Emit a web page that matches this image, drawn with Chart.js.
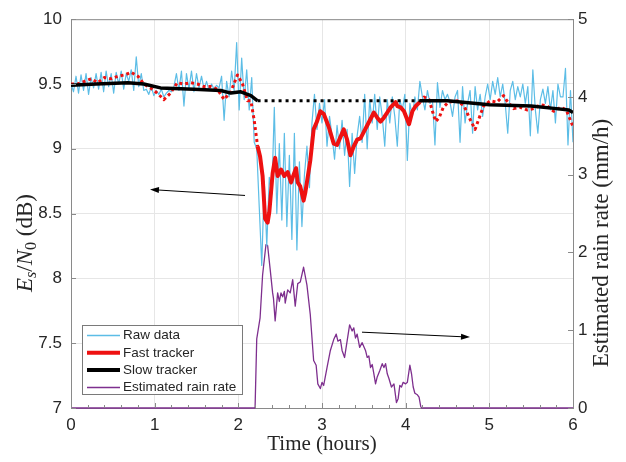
<!DOCTYPE html>
<html>
<head>
<meta charset="utf-8">
<script src="https://cdn.jsdelivr.net/npm/chart.js"></script>
<style>
html, body { margin:0; padding:0; background:#fff; }
canvas { display:block; }
</style>
</head>
<body>
<canvas id="c" width="626" height="462"></canvas>
<script>
// Ticks
var xTicks = [0, 1, 2, 3, 4, 5, 6];
var leftTicks = [7, 7.5, 8, 8.5, 9, 9.5, 10];
var rightTicks = [0, 1, 2, 3, 4, 5];

// Raw Es/N0 (dB), one sample every 0.03 h
var rawStart = 0;
var rawStep = 0.03;
var rawValues = [
  9.50, 9.44, 9.56, 9.43, 9.57, 9.45, 9.58, 9.42, 9.55, 9.47,
  9.58, 9.46, 9.59, 9.44, 9.60, 9.48, 9.58, 9.43, 9.59, 9.50,
  9.60, 9.46, 9.58, 9.52, 9.61, 9.45, 9.71, 9.48, 9.58, 9.45,
  9.46, 9.42, 9.48, 9.41, 9.45, 9.42, 9.46, 9.40, 9.43, 9.45,
  9.44, 9.48, 9.58, 9.45, 9.60, 9.33, 9.58, 9.46, 9.60, 9.44,
  9.58, 9.47, 9.56, 9.46, 9.52, 9.45, 9.50, 9.46, 9.49, 9.47,
  9.56, 9.22, 9.52, 9.40, 9.60, 9.45, 9.82, 9.30, 9.70, 9.38,
  9.61, 9.30, 9.55, 9.05, 9.00, 8.55, 8.10, 8.75, 8.25, 8.78,
  8.65, 9.32, 8.50, 9.04, 8.45, 9.12, 8.40, 8.95, 8.30, 9.12,
  8.22, 8.90, 8.40, 8.80, 9.02, 8.70, 9.20, 9.42, 9.15, 9.35,
  9.20, 9.38, 9.02, 9.25, 9.10, 8.92, 9.18, 9.00, 9.22, 8.95,
  9.15, 8.71, 9.12, 8.81, 9.10, 9.25, 9.05, 9.42, 9.00, 9.38,
  9.20, 9.42, 9.15, 9.40, 9.25, 9.02, 9.38, 9.20, 9.40, 9.25,
  9.02, 9.38, 9.30, 9.42, 8.91, 9.35, 9.25, 9.40, 9.30, 9.52,
  9.40, 9.30, 9.45, 9.35, 9.38, 9.03, 9.51, 9.32, 9.45, 9.38,
  9.42, 9.36, 9.25, 9.40, 9.45, 9.05, 9.48, 9.20, 9.35, 9.45,
  9.12, 9.48, 9.30, 9.42, 9.25, 9.40, 9.50, 9.38, 9.52, 9.42,
  9.55, 9.40, 9.50, 9.35, 9.12, 9.45, 9.52, 9.38, 9.48, 9.40,
  9.50, 9.35, 9.48, 9.10, 9.61, 9.30, 9.12, 9.38, 9.46, 9.35,
  9.48, 9.30, 9.45, 9.20, 9.50, 9.40, 9.40, 9.62, 9.03, 9.45, 9.05
];

// Fast tracker (dB)
var fastTime = [
  0, 0.08, 0.16, 0.24, 0.32, 0.40, 0.48, 0.56, 0.64, 0.72,
  0.80, 0.87, 0.95, 1.03, 1.11, 1.19, 1.27, 1.35, 1.43, 1.51,
  1.59, 1.67, 1.75, 1.83, 1.91, 1.99, 2.05, 2.11, 2.15, 2.19,
  2.23, 2.26, 2.29, 2.32, 2.35, 2.37, 2.41, 2.44, 2.47, 2.51,
  2.55, 2.59, 2.63, 2.65, 2.69, 2.71, 2.74, 2.78, 2.80, 2.86,
  2.90, 2.94, 2.98, 3.02, 3.08, 3.14, 3.18, 3.26, 3.30, 3.34,
  3.38, 3.42, 3.46, 3.50, 3.54, 3.58, 3.62, 3.66, 3.70, 3.74,
  3.78, 3.82, 3.88, 3.90, 3.94, 3.98, 4.04, 4.08, 4.12, 4.17,
  4.22, 4.28, 4.32, 4.36, 4.40, 4.45, 4.51, 4.62, 4.70, 4.76,
  4.83, 4.88, 4.93, 5.01, 5.09, 5.17, 5.21, 5.29, 5.37, 5.45,
  5.53, 5.61, 5.69, 5.77, 5.85, 5.92, 6.00
];
var fastValues = [
  9.50, 9.50, 9.52, 9.54, 9.51, 9.55, 9.54, 9.56, 9.57, 9.59,
  9.56, 9.50, 9.47, 9.43, 9.38, 9.43, 9.51, 9.50, 9.51, 9.50,
  9.48, 9.48, 9.46, 9.38, 9.44, 9.57, 9.50, 9.37, 9.37, 9.22,
  9.02, 8.94, 8.79, 8.46, 8.43, 8.51, 8.81, 8.93, 8.79, 8.84,
  8.79, 8.82, 8.74, 8.78, 8.85, 8.74, 8.71, 8.60, 8.66, 8.91,
  9.15, 9.21, 9.29, 9.27, 9.17, 9.04, 9.03, 9.15, 9.07, 8.95,
  9.02, 9.07, 9.08, 9.13, 9.18, 9.23, 9.28, 9.24, 9.21, 9.24,
  9.28, 9.32, 9.36, 9.33, 9.32, 9.29, 9.19, 9.29, 9.33, 9.36,
  9.40, 9.38, 9.29, 9.21, 9.24, 9.32, 9.36, 9.37, 9.33, 9.24,
  9.15, 9.24, 9.33, 9.37, 9.36, 9.41, 9.37, 9.31, 9.32, 9.30,
  9.31, 9.34, 9.33, 9.29, 9.32, 9.30, 9.17
];

// Slow tracker (dB)
var slowTime = [0, 0.30, 0.68, 0.87, 1.07, 1.47, 1.79, 1.91, 2.03, 2.15, 2.23, 4.17, 4.50, 5.00, 5.50, 5.80, 5.95, 6.00];
var slowValues = [9.49, 9.50, 9.51, 9.50, 9.47, 9.46, 9.45, 9.43, 9.44, 9.41, 9.37, 9.37, 9.37, 9.34, 9.33, 9.31, 9.30, 9.28];

// Estimated rain rate (mm/h)
var rainTime = [
  0, 2.20, 2.22, 2.26, 2.29, 2.33, 2.35, 2.38, 2.41, 2.42,
  2.44, 2.47, 2.49, 2.51, 2.53, 2.55, 2.56, 2.59, 2.62, 2.65,
  2.68, 2.71, 2.74, 2.78, 2.82, 2.86, 2.90, 2.93, 2.95, 2.98,
  3.00, 3.02, 3.06, 3.10, 3.14, 3.17, 3.19, 3.22, 3.24, 3.27,
  3.30, 3.33, 3.36, 3.38, 3.40, 3.42, 3.45, 3.48, 3.52, 3.54,
  3.56, 3.58, 3.60, 3.62, 3.64, 3.66, 3.69, 3.72, 3.74, 3.76,
  3.78, 3.80, 3.83, 3.86, 3.89, 3.91, 3.93, 3.95, 3.97, 4.00,
  4.02, 4.05, 4.07, 4.09, 4.11, 4.14, 4.16, 4.18, 4.19, 6.00
];
var rainValues = [
  0, 0, 0.89, 1.16, 1.71, 2.10, 2.09, 1.79, 1.48, 1.41,
  1.12, 1.48, 1.37, 1.48, 1.43, 1.50, 1.35, 1.52, 1.48, 1.65,
  1.31, 1.60, 1.62, 1.81, 1.58, 1.20, 0.61, 0.55, 0.31, 0.25,
  0.33, 0.29, 0.52, 0.74, 0.88, 0.95, 0.86, 0.88, 0.74, 0.65,
  0.86, 1.07, 0.99, 1.03, 0.90, 0.95, 0.78, 0.84, 0.74, 0.65,
  0.67, 0.52, 0.56, 0.44, 0.31, 0.40, 0.48, 0.57, 0.52, 0.57,
  0.44, 0.38, 0.27, 0.31, 0.07, 0.12, 0.29, 0.27, 0.33, 0.31,
  0.33, 0.55, 0.44, 0.27, 0.19, 0.17, 0.14, 0.02, 0, 0
];

// Rain event: fast tracker solid, slow tracker frozen (dotted)
var rainStart = 2.23;
var rainEnd = 4.17;

// Annotation arrows [fromT, fromdB, toT, todB]
var arrows = [
  [2.08, 8.64, 0.944, 8.686],
  [3.478, 7.585, 4.769, 7.547]
];

// Style
var sans = '"Liberation Sans", Arial, sans-serif';
var serif = '"Liberation Serif", "Times New Roman", serif';
var textColor = '#262626';
var axisColor = '#8a8a8a';
var gridColor = '#e6e6e6';
var rawColor = '#5cbde6';
var fastColor = '#ee1111';
var slowColor = '#000000';
var rainColor = '#7e2f8e';

function pairs(t, v) {
  var out = [];
  for (var i = 0; i < v.length; i++) out.push({ x: t[i], y: v[i] });
  return out;
}
function rawPairs() {
  var out = [];
  for (var i = 0; i < rawValues.length; i++) out.push({ x: rawStart + i * rawStep, y: rawValues[i] });
  return out;
}
function inRain(ctx) {
  var x = ctx.p0.parsed.x;
  return x >= rainStart - 1e-6 && x < rainEnd - 1e-6;
}

// Legend entries (drawn by the plugin)
var legendItems = [
  { label: 'Raw data', color: rawColor, width: 1.5 },
  { label: 'Fast tracker', color: fastColor, width: 4 },
  { label: 'Slow tracker', color: slowColor, width: 4 },
  { label: 'Estimated rain rate', color: rainColor, width: 1.5 }
];

function drawPieces(ctx, pieces, cx, cy, base) {
  var w = 0;
  pieces.forEach(function (p) { ctx.font = p.f; w += ctx.measureText(p.t).width; });
  var x = cx - w / 2;
  pieces.forEach(function (p) {
    ctx.font = p.f;
    ctx.fillText(p.t, x, cy + base + (p.dy || 0));
    x += ctx.measureText(p.t).width;
  });
}

var decor = {
  id: 'decor',
  afterDraw: function (chart) {
    var ctx = chart.ctx, a = chart.chartArea;
    var sx = chart.scales.x, sy = chart.scales.y, sr = chart.scales.y1;
    ctx.save();

    // top border of the box
    ctx.strokeStyle = axisColor;
    ctx.lineWidth = 1;
    ctx.beginPath();
    ctx.moveTo(a.left, a.top + 0.5);
    ctx.lineTo(a.right, a.top + 0.5);
    ctx.stroke();

    // inward ticks
    ctx.beginPath();
    for (var i = 0; i <= 30; i++) {
      var px = Math.round(sx.getPixelForValue(i / 5)) + 0.5;
      var len = (i % 5 === 0) ? 5 : 3;
      ctx.moveTo(px, a.bottom);
      ctx.lineTo(px, a.bottom - len);
    }
    leftTicks.forEach(function (v) {
      var py = Math.round(sy.getPixelForValue(v)) + 0.5;
      ctx.moveTo(a.left, py);
      ctx.lineTo(a.left + 5, py);
    });
    rightTicks.forEach(function (v) {
      var py = Math.round(sr.getPixelForValue(v)) + 0.5;
      ctx.moveTo(a.right, py);
      ctx.lineTo(a.right - 5, py);
    });
    ctx.stroke();

    // arrows
    ctx.strokeStyle = '#000';
    ctx.fillStyle = '#000';
    ctx.lineWidth = 1;
    arrows.forEach(function (ar) {
      var x0 = sx.getPixelForValue(ar[0]), y0 = sy.getPixelForValue(ar[1]);
      var x1 = sx.getPixelForValue(ar[2]), y1 = sy.getPixelForValue(ar[3]);
      var ang = Math.atan2(y1 - y0, x1 - x0);
      ctx.beginPath();
      ctx.moveTo(x0, y0);
      ctx.lineTo(x1 - 6 * Math.cos(ang), y1 - 6 * Math.sin(ang));
      ctx.stroke();
      ctx.beginPath();
      ctx.moveTo(x1, y1);
      ctx.lineTo(x1 - 9 * Math.cos(ang) + 3 * Math.sin(ang), y1 - 9 * Math.sin(ang) - 3 * Math.cos(ang));
      ctx.lineTo(x1 - 9 * Math.cos(ang) - 3 * Math.sin(ang), y1 - 9 * Math.sin(ang) + 3 * Math.cos(ang));
      ctx.closePath();
      ctx.fill();
    });

    // legend box
    var lx = 82, ly = 325, lw = 160, lh = 69;
    ctx.fillStyle = '#fff';
    ctx.fillRect(lx, ly, lw, lh);
    ctx.strokeStyle = '#7a7a7a';
    ctx.lineWidth = 1;
    ctx.strokeRect(lx + 0.5, ly + 0.5, lw, lh);
    ctx.font = '13.5px ' + sans;
    ctx.textBaseline = 'middle';
    ctx.textAlign = 'left';
    legendItems.forEach(function (it, k) {
      var yy = ly + 10.5 + k * 17.3;
      ctx.strokeStyle = it.color;
      ctx.lineWidth = it.width;
      ctx.beginPath();
      ctx.moveTo(lx + 5, yy);
      ctx.lineTo(lx + 38, yy);
      ctx.stroke();
      ctx.fillStyle = textColor;
      ctx.fillText(it.label, lx + 41, yy);
    });

    // axis titles
    ctx.fillStyle = textColor;
    ctx.textBaseline = 'alphabetic';
    ctx.textAlign = 'left';
    drawPieces(ctx, [{ t: 'Time (hours)', f: '21px ' + serif }], (a.left + a.right) / 2, 443, 7);

    ctx.save();
    ctx.translate(24, 243);
    ctx.rotate(-Math.PI / 2);
    drawPieces(ctx, [
      { t: 'E', f: 'italic 23px ' + serif },
      { t: 's', f: 'italic 16px ' + serif, dy: 4 },
      { t: '/', f: '23px ' + serif },
      { t: 'N', f: 'italic 23px ' + serif },
      { t: '0', f: '16px ' + serif, dy: 4 },
      { t: ' (dB)', f: '23px ' + serif }
    ], 0, 0, 8);
    ctx.restore();

    ctx.save();
    ctx.translate(601, 243);
    ctx.rotate(-Math.PI / 2);
    drawPieces(ctx, [{ t: 'Estimated rain rate (mm/h)', f: '23px ' + serif }], 0, 0, 7);
    ctx.restore();

    ctx.restore();
  }
};

function tickFormat(v) { return String(v); }

new Chart(document.getElementById('c'), {
  type: 'line',
  data: {
    datasets: [
      {
        label: 'Slow tracker', data: pairs(slowTime, slowValues), yAxisID: 'y', order: 0,
        borderColor: slowColor, borderWidth: 3.5,
        segment: {
          borderDash: function (ctx) { return inRain(ctx) ? [3, 4] : []; },
          borderWidth: function (ctx) { return inRain(ctx) ? 3 : 3.5; }
        }
      },
      {
        label: 'Fast tracker', data: pairs(fastTime, fastValues), yAxisID: 'y', order: 1,
        borderColor: fastColor, borderWidth: 3,
        segment: {
          borderDash: function (ctx) { return inRain(ctx) ? [] : [3, 3]; },
          borderWidth: function (ctx) { return inRain(ctx) ? 4 : 3; }
        }
      },
      {
        label: 'Raw data', data: rawPairs(), yAxisID: 'y', order: 2,
        borderColor: rawColor, borderWidth: 1.2
      },
      {
        label: 'Estimated rain rate', data: pairs(rainTime, rainValues), yAxisID: 'y1', order: 3,
        borderColor: rainColor, borderWidth: 1.3, clip: 3
      }
    ]
  },
  options: {
    responsive: false,
    animation: false,
    events: [],
    layout: { padding: { top: 13, left: 0, right: 0, bottom: 0 } },
    elements: { point: { radius: 0 }, line: { tension: 0, fill: false, borderJoinStyle: 'round' } },
    plugins: { legend: { display: false }, tooltip: { enabled: false } },
    scales: {
      x: {
        type: 'linear', min: 0, max: 6,
        afterBuildTicks: function (s) { s.ticks = xTicks.map(function (v) { return { value: v }; }); },
        afterFit: function (s) { s.height = 54; },
        grid: { color: gridColor, drawTicks: false },
        border: { color: axisColor },
        ticks: { color: textColor, font: { family: sans, size: 17 }, padding: 7, maxRotation: 0, autoSkip: false, callback: tickFormat }
      },
      y: {
        type: 'linear', position: 'left', min: 7, max: 10,
        afterBuildTicks: function (s) { s.ticks = leftTicks.map(function (v) { return { value: v }; }); },
        afterFit: function (s) { s.width = 71; },
        grid: { color: gridColor, drawTicks: false },
        border: { color: axisColor },
        ticks: { color: textColor, font: { family: sans, size: 17 }, padding: 9, autoSkip: false, callback: tickFormat }
      },
      y1: {
        type: 'linear', position: 'right', min: 0, max: 5,
        afterBuildTicks: function (s) { s.ticks = rightTicks.map(function (v) { return { value: v }; }); },
        afterFit: function (s) { s.width = 53; },
        grid: { display: false, drawTicks: false },
        border: { color: axisColor },
        ticks: { color: textColor, font: { family: sans, size: 17 }, padding: 5, autoSkip: false, callback: tickFormat }
      }
    }
  },
  plugins: [decor]
});
</script>
</body>
</html>
